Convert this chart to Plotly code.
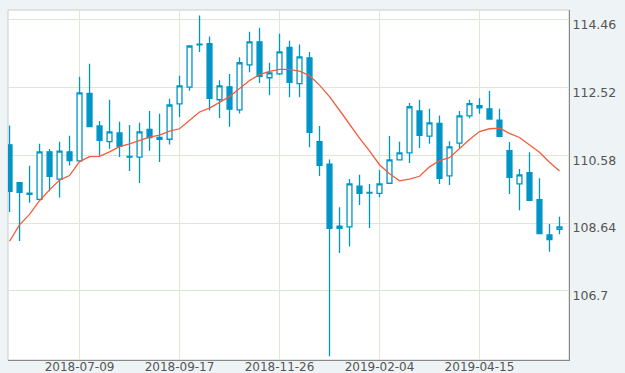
import plotly.graph_objects as go
import pandas as pd

# Weekly candles, 2018-05-21 .. 2019-06-10
dates = pd.date_range("2018-05-21", periods=56, freq="7D").strftime("%Y-%m-%d").tolist()

open_ = [110.88, 109.80, 109.50, 109.32, 110.68, 109.90, 110.68, 110.42, 112.35, 111.42,
         110.97, 111.22, 110.55, 110.53, 111.32, 111.09, 111.04, 112.05, 112.53, 113.74,
         113.78, 112.17, 112.54, 111.88, 113.17, 113.83, 112.80, 112.91, 113.67, 112.63,
         113.37, 110.97, 110.33, 108.49, 108.53, 109.70, 109.52, 109.49, 109.78, 110.45,
         110.65, 111.85, 111.13, 111.49, 109.99, 110.93, 111.71, 112.00, 111.91, 111.59,
         110.71, 109.76, 110.08, 109.31, 108.30, 108.46]
high = [111.43, 109.81, 110.28, 110.91, 110.76, 110.97, 111.14, 112.83, 113.20, 111.56,
        112.17, 111.54, 111.45, 111.51, 111.85, 111.77, 112.20, 112.86, 113.73, 114.58,
        113.98, 112.73, 112.91, 113.39, 114.12, 114.23, 113.23, 114.06, 113.86, 113.75,
        113.54, 111.42, 110.46, 109.09, 109.90, 110.02, 109.76, 110.16, 111.13, 110.97,
        112.08, 112.17, 111.91, 111.72, 110.98, 111.85, 112.17, 112.21, 112.42, 111.91,
        110.96, 110.19, 110.67, 109.92, 108.61, 108.82]
low = [108.96, 108.13, 109.22, 109.30, 109.55, 109.37, 110.29, 110.40, 111.38, 110.57,
       110.77, 110.53, 110.13, 109.79, 110.71, 110.39, 110.89, 111.68, 112.43, 113.54,
       111.86, 111.65, 111.40, 111.78, 112.96, 112.65, 112.30, 112.88, 112.24, 112.24,
       110.81, 109.99, 104.83, 107.78, 107.97, 109.16, 108.50, 109.38, 109.76, 110.43,
       110.36, 110.79, 110.91, 109.76, 109.73, 110.79, 111.64, 111.77, 111.60, 111.10,
       109.47, 109.01, 109.27, 108.33, 107.82, 108.32]
close = [109.55, 109.52, 109.46, 110.68, 109.98, 110.70, 110.43, 112.37, 111.40, 111.01,
         111.25, 110.84, 110.53, 111.25, 111.09, 111.04, 112.02, 112.57, 113.71, 113.76,
         112.21, 112.57, 111.90, 113.23, 113.83, 112.84, 112.94, 113.54, 112.67, 113.40,
         111.24, 110.29, 108.49, 108.55, 109.76, 109.49, 109.50, 109.76, 110.45, 110.65,
         111.97, 111.15, 111.51, 109.92, 110.82, 111.71, 112.06, 111.94, 111.62, 111.12,
         109.95, 110.02, 109.29, 108.34, 108.17, 108.53]

ma = [108.12, 108.59, 108.89, 109.28, 109.59, 109.87, 110.00, 110.40, 110.54, 110.55,
      110.68, 110.83, 110.91, 111.00, 111.10, 111.16, 111.27, 111.34, 111.57, 111.82,
      111.93, 112.09, 112.26, 112.49, 112.72, 112.89, 112.98, 113.04, 113.04, 112.99,
      112.86, 112.59, 112.26, 111.87, 111.46, 111.07, 110.71, 110.31, 110.05, 109.85,
      109.90, 109.98, 110.25, 110.43, 110.51, 110.77, 111.03, 111.26, 111.34, 111.36,
      111.21, 111.09, 110.89, 110.67, 110.38, 110.13]

x_tickvals = ["2018-07-09", "2018-09-17", "2018-11-26", "2019-02-04", "2019-04-15"]
y_tickvals = [106.7, 108.64, 110.58, 112.52, 114.46]

BLUE = "#0095c6"
BG = "#eef3f6"

fig = go.Figure()
fig.add_trace(go.Candlestick(
    x=dates, open=open_, high=high, low=low, close=close,
    increasing=dict(line=dict(color=BLUE, width=1.3), fillcolor="#ffffff"),
    decreasing=dict(line=dict(color=BLUE, width=1.3), fillcolor=BLUE),
    whiskerwidth=0, showlegend=False, hoverinfo="skip",
))
fig.add_trace(go.Scatter(
    x=dates, y=ma, mode="lines", line=dict(color="#f25c3c", width=1.3),
    showlegend=False, hoverinfo="skip",
))

fig.update_layout(
    width=625, height=373,
    margin=dict(l=8, r=56, t=10, b=13, autoexpand=False),
    paper_bgcolor=BG, plot_bgcolor="#ffffff",
    font=dict(family="DejaVu Sans", size=13, color="#555555"),
    showlegend=False,
)
fig.update_xaxes(
    type="date", automargin=False,
    range=["2018-05-19 22:00", "2019-06-16 16:00"],
    tickvals=x_tickvals, ticktext=x_tickvals,
    showgrid=True, gridcolor="#dde8d2", gridwidth=1,
    showline=True, linecolor="#888888", linewidth=1, mirror=False,
    rangeslider=dict(visible=False), ticks="", zeroline=False,
    ticklabelstandoff=-4,
    tickfont=dict(size=12, color="#555555"),
)
fig.update_yaxes(
    side="right", automargin=False,
    range=[104.72, 114.74],
    tickvals=y_tickvals, ticktext=[str(v) for v in y_tickvals],
    showgrid=True, gridcolor="#dde8d2", gridwidth=1,
    showline=True, linecolor="#888888", linewidth=1,
    ticks="", zeroline=False,
    ticklabelshift=5,
    tickfont=dict(size=12.5, color="#555555"),
)
# light frame on the top/left of the plot area
fig.add_shape(type="rect", xref="paper", yref="paper", x0=0, y0=0, x1=1, y1=1,
              line=dict(color="#cccccc", width=1), layer="below")

fig.write_html(
    "out.html",
    config={"displayModeBar": False, "staticPlot": True},
    post_script="document.body.style.margin='0';document.body.style.background='%s';"
                "document.body.style.overflow='hidden';" % BG,
)
